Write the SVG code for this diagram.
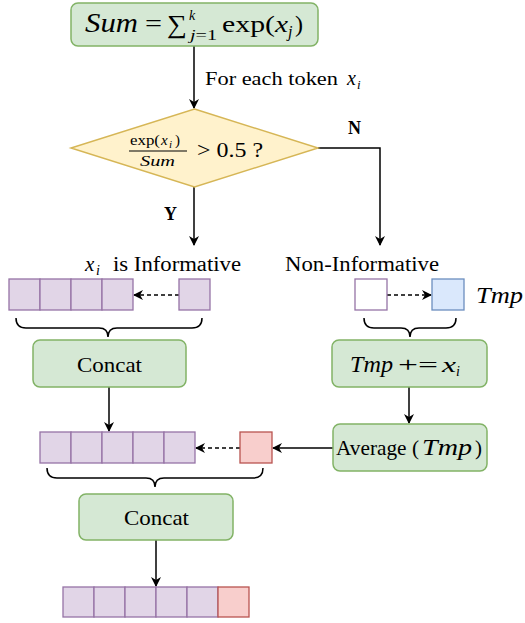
<svg xmlns="http://www.w3.org/2000/svg" width="525" height="623" viewBox="0 0 525 623" font-family="'Liberation Serif', 'Times New Roman', 'DejaVu Serif', serif">
<style>
.proc{fill:#d5e8d4;stroke:#82b366;stroke-width:1.5}
.dec{fill:#fff2cc;stroke:#d6b656;stroke-width:1.5}
.pc{fill:#e1d5e7;stroke:#9673a6;stroke-width:1.3}
.wc{fill:#ffffff;stroke:#9673a6;stroke-width:1.3}
.bc{fill:#dae8fc;stroke:#6c8ebf;stroke-width:1.3}
.rc{fill:#f8cecc;stroke:#b85450;stroke-width:1.3}
text{font-family:'Liberation Serif','Times New Roman','DejaVu Serif',serif;fill:#000}
.m{font-style:italic}
.ln{fill:none;stroke:#000;stroke-width:1.5}
.dash{fill:none;stroke:#000;stroke-width:1.5;stroke-dasharray:4 3}
.brace{fill:none;stroke:#000;stroke-width:1.5}
</style>
<defs>
<marker id="ah" markerWidth="10" markerHeight="10" refX="9" refY="5" orient="auto" markerUnits="userSpaceOnUse" viewBox="0 0 10 10">
<path d="M0,0 L10,5 L0,10 L3,5 z" fill="#000"/>
</marker>
</defs>

<g id="connectors">
<line class="ln" x1="194" y1="46" x2="194" y2="108" marker-end="url(#ah)"/>
<path class="ln" d="M318,148 L380,148 L380,245" marker-end="url(#ah)"/>
<line class="ln" x1="194" y1="187" x2="194" y2="245" marker-end="url(#ah)"/>
<line class="dash" x1="179" y1="295" x2="134" y2="295" marker-end="url(#ah)"/>
<line class="dash" x1="387" y1="295" x2="431" y2="295" marker-end="url(#ah)"/>
<line class="ln" x1="109" y1="387" x2="109" y2="431" marker-end="url(#ah)"/>
<line class="ln" x1="409" y1="387" x2="409" y2="423" marker-end="url(#ah)"/>
<line class="ln" x1="333" y1="448" x2="273" y2="448" marker-end="url(#ah)"/>
<line class="dash" x1="240" y1="448" x2="196" y2="448" marker-end="url(#ah)"/>
<line class="ln" x1="156" y1="540" x2="156" y2="586" marker-end="url(#ah)"/>
<text x="205" y="85" font-size="19" textLength="133" lengthAdjust="spacingAndGlyphs">For each token</text>
<text class="m" x="347" y="85" font-size="20">x</text>
<text class="m" x="357" y="89" font-size="13">i</text>
<text x="348" y="134" font-size="18" font-weight="bold">N</text>
<text x="164" y="220" font-size="18" font-weight="bold">Y</text>
</g>

<g id="sum">
<rect class="proc" x="71" y="3" width="247" height="43" rx="7"/>
<text class="m" font-size="27" x="85" y="32" textLength="53" lengthAdjust="spacingAndGlyphs">Sum</text>
<text font-size="25" x="145" y="32" textLength="17" lengthAdjust="spacingAndGlyphs">=</text>
<text font-size="26" x="167" y="33" textLength="20" lengthAdjust="spacingAndGlyphs">∑</text>
<text class="m" font-size="14" x="189" y="20">k</text>
<text font-size="15" x="190" y="40" textLength="27" lengthAdjust="spacingAndGlyphs"><tspan class="m">j</tspan>=1</text>
<text font-size="24" x="222" y="32" textLength="53" lengthAdjust="spacingAndGlyphs">exp(</text>
<text class="m" font-size="24" x="275" y="32" textLength="13" lengthAdjust="spacingAndGlyphs">x</text>
<text class="m" font-size="16" x="288" y="37">j</text>
<text font-size="24" x="295" y="32">)</text>
</g>

<g id="decision">
<polygon class="dec" points="194.5,109 318,148 194.5,187 71,148"/>
<text font-size="15" x="130" y="145" textLength="30" lengthAdjust="spacingAndGlyphs">exp(</text>
<text class="m" font-size="15" x="161" y="145">x</text>
<text class="m" font-size="11" x="169" y="148">i</text>
<text font-size="15" x="175" y="145">)</text>
<line x1="129" y1="151" x2="187" y2="151" stroke="#000" stroke-width="1.2"/>
<text class="m" font-size="15" x="140" y="166" textLength="35" lengthAdjust="spacingAndGlyphs">Sum</text>
<text font-size="22" x="197" y="157" textLength="66" lengthAdjust="spacingAndGlyphs">&gt; 0.5 ?</text>
</g>

<g id="informative">
<text class="m" x="85" y="271" font-size="21">x</text>
<text class="m" x="96" y="275" font-size="14">i</text>
<text x="113" y="271" font-size="20" textLength="128" lengthAdjust="spacingAndGlyphs">is Informative</text>
<rect class="pc" x="9" y="279" width="31" height="31"/>
<rect class="pc" x="40" y="279" width="31" height="31"/>
<rect class="pc" x="71" y="279" width="31" height="31"/>
<rect class="pc" x="102" y="279" width="31" height="31"/>
<rect class="pc" x="179" y="279" width="31" height="31"/>
<path class="brace" d="M16,318 Q16,328 26,328 L99,328 Q108,328 108,337 Q108,328 117,328 L192,328 Q202,328 202,318"/>
</g>

<g id="concat1">
<rect class="proc" x="33" y="340" width="153" height="47" rx="7"/>
<text x="77" y="372" font-size="21" textLength="65" lengthAdjust="spacingAndGlyphs">Concat</text>
</g>

<g id="noninformative">
<text x="285" y="271" font-size="20" textLength="154" lengthAdjust="spacingAndGlyphs">Non-Informative</text>
<rect class="wc" x="355" y="279" width="32" height="31"/>
<rect class="bc" x="432" y="279" width="32" height="31"/>
<text class="m" x="476" y="303" font-size="23" textLength="47" lengthAdjust="spacingAndGlyphs">Tmp</text>
<path class="brace" d="M364,318 Q364,328 374,328 L401,328 Q410,328 410,337 Q410,328 419,328 L446,328 Q456,328 456,318"/>
</g>

<g id="tmpadd">
<rect class="proc" x="332" y="340" width="155" height="47" rx="7"/>
<text class="m" x="350" y="372" font-size="23" textLength="43" lengthAdjust="spacingAndGlyphs">Tmp</text>
<text x="398" y="372" font-size="22" textLength="40" lengthAdjust="spacingAndGlyphs">+=</text>
<text class="m" x="442" y="372" font-size="22" textLength="14" lengthAdjust="spacingAndGlyphs">x</text>
<text class="m" x="456" y="376" font-size="14">i</text>
</g>

<g id="average">
<rect class="proc" x="333" y="424" width="154" height="47" rx="7"/>
<text x="336" y="455" font-size="21" textLength="83" lengthAdjust="spacingAndGlyphs">Average (</text>
<text class="m" x="422" y="455" font-size="23" textLength="50" lengthAdjust="spacingAndGlyphs">Tmp</text>
<text x="475" y="455" font-size="21">)</text>
</g>

<g id="row2">
<rect class="pc" x="40" y="432" width="31" height="31"/>
<rect class="pc" x="71" y="432" width="31" height="31"/>
<rect class="pc" x="102" y="432" width="31" height="31"/>
<rect class="pc" x="133" y="432" width="31" height="31"/>
<rect class="pc" x="164" y="432" width="31" height="31"/>
<rect class="rc" x="240" y="432" width="32" height="31"/>
<path class="brace" d="M47,468 Q47,478 57,478 L146,478 Q155,478 155,487 Q155,478 164,478 L253,478 Q263,478 263,468"/>
</g>

<g id="concat2">
<rect class="proc" x="79" y="494" width="154" height="46" rx="7"/>
<text x="124" y="525" font-size="21" textLength="65" lengthAdjust="spacingAndGlyphs">Concat</text>
</g>

<g id="output">
<rect class="pc" x="63" y="587" width="31" height="30"/>
<rect class="pc" x="94" y="587" width="31" height="30"/>
<rect class="pc" x="125" y="587" width="31" height="30"/>
<rect class="pc" x="156" y="587" width="31" height="30"/>
<rect class="pc" x="187" y="587" width="31" height="30"/>
<rect class="rc" x="218" y="587" width="31" height="30"/>
</g>
</svg>
